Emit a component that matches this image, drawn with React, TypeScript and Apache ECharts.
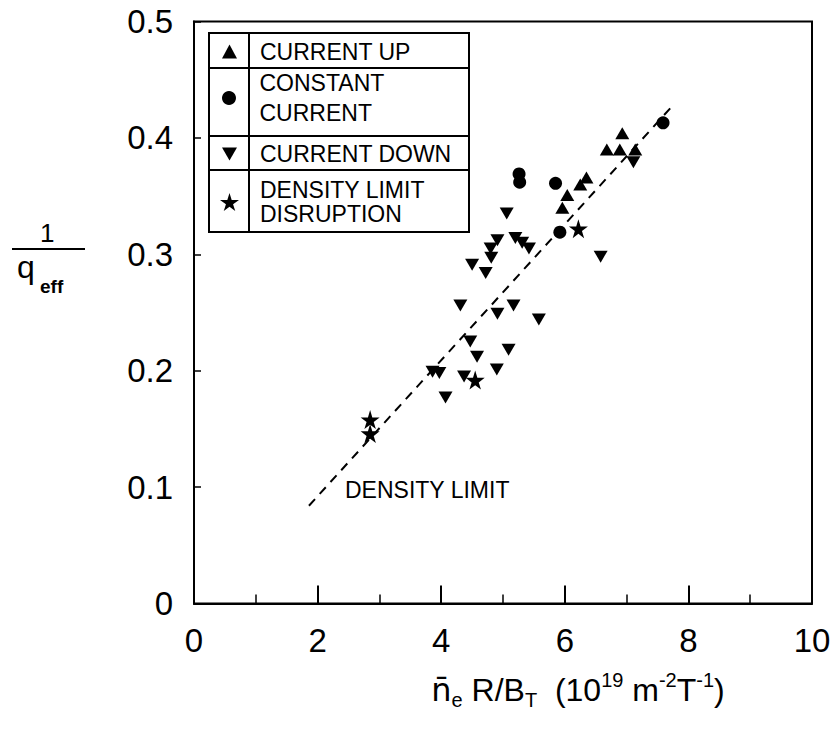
import React, { useEffect, useRef } from "react";
import * as echarts from "echarts";

const FONT = '"Liberation Sans", Arial, sans-serif';

const xTicks = [0, 2, 4, 6, 8, 10];
const yTicks = [0, 0.1, 0.2, 0.3, 0.4, 0.5];

const currentUp: number[][] = [
  [6.93, 0.404], [6.68, 0.39], [6.89, 0.39], [7.14, 0.39],
  [6.25, 0.36], [6.35, 0.366], [6.04, 0.351], [5.96, 0.34],
];
const constantCurrent: number[][] = [
  [5.26, 0.369], [5.27, 0.362], [5.85, 0.361], [5.92, 0.319], [7.59, 0.413],
];
const currentDown: number[][] = [
  [5.06, 0.335], [4.91, 0.312], [4.8, 0.305], [4.81, 0.297], [5.2, 0.314],
  [5.31, 0.31], [5.42, 0.305], [4.5, 0.291], [4.72, 0.284], [6.58, 0.298],
  [4.31, 0.256], [4.91, 0.249], [5.17, 0.256], [5.58, 0.244], [4.47, 0.225],
  [4.58, 0.212], [5.09, 0.218], [3.86, 0.199], [3.97, 0.198], [4.37, 0.195],
  [4.9, 0.201], [4.07, 0.177], [7.11, 0.379],
];
const disruption: number[][] = [
  [6.22, 0.322], [4.55, 0.192], [2.85, 0.158], [2.85, 0.146],
];
const densityLimitLine: number[][] = [[1.86, 0.084], [7.75, 0.428]];

const STAR =
  "path://M50,0 L61,35 L98,35 L68,57 L79,91 L50,70 L21,91 L32,57 L2,35 L39,35 Z";
const DOWN_TRIANGLE = "path://M0,0 L14,0 L7,12 Z";

export default function App() {
  const ref = useRef<HTMLDivElement>(null);
  useEffect(() => {
    const chart = echarts.init(ref.current!, null, { renderer: "svg" });
    const legendBase = {
      orient: "vertical",
      selectedMode: false,
      padding: 0,
      itemWidth: 15,
      itemHeight: 14,
      left: 222,
    };
    const legendText = (lh: number, pad = 18) => ({
      fontSize: 23,
      fontFamily: FONT,
      color: "#000",
      lineHeight: lh,
      padding: [0, 0, 0, pad],
    });
    chart.setOption({
      animation: false,
      backgroundColor: "#fff",
      grid: {
        left: 194,
        top: 21.5,
        right: 25,
        bottom: 136.5,
        show: true,
        borderColor: "#000",
        borderWidth: 2,
        containLabel: false,
      },
      xAxis: {
        type: "value",
        min: xTicks[0],
        max: xTicks[xTicks.length - 1],
        interval: 2,
        axisLine: { show: true, onZero: false, lineStyle: { color: "#000", width: 2 } },
        axisTick: { show: true, inside: true, length: 18, lineStyle: { color: "#000", width: 2 } },
        minorTick: { show: true, splitNumber: 2, length: 9, lineStyle: { color: "#000", width: 1.5 } },
        splitLine: { show: false },
        axisLabel: { fontSize: 33, fontFamily: FONT, color: "#000", margin: 20 },
        name:
          "{n|n\u0304}{sub|e}{t| R/B}{sub|T}{t|  (10}{sup|19}{t| m}{sup|-2}{t|T}{sup|-1}{t|)}",
        nameLocation: "middle",
        nameGap: 66,
        nameTextStyle: {
          fontFamily: FONT,
          color: "#000",
          padding: [0, 0, 0, 150],
          rich: {
            n: { fontSize: 32, fontFamily: '"DejaVu Sans", sans-serif', color: "#000", lineHeight: 40 },
            t: { fontSize: 32, fontFamily: FONT, color: "#000", lineHeight: 40 },
            sub: { fontSize: 20, fontFamily: FONT, color: "#000", lineHeight: 20, verticalAlign: "bottom" },
            sup: { fontSize: 20, fontFamily: FONT, color: "#000", lineHeight: 20, verticalAlign: "top" },
          },
        },
      },
      yAxis: {
        type: "value",
        min: yTicks[0],
        max: yTicks[yTicks.length - 1],
        interval: 0.1,
        axisLine: { show: true, onZero: false, lineStyle: { color: "#000", width: 2 } },
        axisTick: { show: true, inside: true, length: 7, lineStyle: { color: "#000", width: 1.5 } },
        splitLine: { show: false },
        axisLabel: { fontSize: 33, fontFamily: FONT, color: "#000", margin: 21 },
      },
      legend: [
        { ...legendBase, top: 40, data: ["CURRENT UP"], textStyle: legendText(22) },
        { ...legendBase, top: 68, data: ["CONSTANT\nCURRENT"], textStyle: legendText(30) },
        {
          ...legendBase,
          top: 142,
          data: [{ name: "CURRENT DOWN", icon: DOWN_TRIANGLE }],
          textStyle: legendText(24),
        },
        {
          ...legendBase,
          left: 220,
          itemWidth: 19,
          itemHeight: 19,
          top: 178,
          data: ["DENSITY LIMIT\nDISRUPTION"],
          textStyle: legendText(24, 16),
        },
      ],
      graphic: [
        {
          type: "rect",
          shape: { x: 209, y: 33, width: 260, height: 199 },
          style: { fill: "none", stroke: "#000", lineWidth: 2 },
          z: 1,
        },
        { type: "line", shape: { x1: 209, y1: 68, x2: 469, y2: 68 }, style: { stroke: "#000", lineWidth: 2 } },
        { type: "line", shape: { x1: 209, y1: 136, x2: 469, y2: 136 }, style: { stroke: "#000", lineWidth: 2 } },
        { type: "line", shape: { x1: 209, y1: 170, x2: 469, y2: 170 }, style: { stroke: "#000", lineWidth: 2 } },
        { type: "line", shape: { x1: 249, y1: 33, x2: 249, y2: 232 }, style: { stroke: "#000", lineWidth: 2 } },
        {
          type: "text",
          left: 345,
          top: 478,
          style: { text: "DENSITY LIMIT", font: `23px ${FONT}`, fill: "#000" },
        },
        {
          type: "text",
          left: 40,
          top: 220,
          style: { text: "1", font: `26px ${FONT}`, fill: "#000" },
        },
        { type: "line", shape: { x1: 12, y1: 249, x2: 85, y2: 249 }, style: { stroke: "#000", lineWidth: 2 } },
        {
          type: "text",
          left: 17,
          top: 251,
          style: { text: "q", font: `32px ${FONT}`, fill: "#000" },
        },
        {
          type: "text",
          left: 40,
          top: 277,
          style: { text: "eff", font: `bold 19px ${FONT}`, fill: "#000" },
        },
      ],
      series: [
        {
          name: "CURRENT UP",
          type: "scatter",
          data: currentUp,
          symbol: "triangle",
          symbolSize: [14, 12],
          itemStyle: { color: "#000", opacity: 1 },
        },
        {
          name: "CONSTANT\nCURRENT",
          type: "scatter",
          data: constantCurrent,
          symbol: "circle",
          symbolSize: 13,
          itemStyle: { color: "#000", opacity: 1 },
        },
        {
          name: "CURRENT DOWN",
          type: "scatter",
          data: currentDown,
          symbol: "triangle",
          symbolRotate: 180,
          symbolSize: [14, 12],
          itemStyle: { color: "#000", opacity: 1 },
        },
        {
          name: "DENSITY LIMIT\nDISRUPTION",
          type: "scatter",
          data: disruption,
          symbol: STAR,
          symbolSize: 19,
          itemStyle: { color: "#000", opacity: 1 },
        },
        {
          name: "density limit line",
          type: "line",
          data: densityLimitLine,
          showSymbol: false,
          symbol: "none",
          lineStyle: { color: "#000", width: 2, type: [9, 7] },
          silent: true,
          z: 1,
        },
      ],
    });
    return () => chart.dispose();
  }, []);
  return (
    <div
      ref={ref}
      style={{ position: "fixed", left: 0, top: 0, width: 837, height: 740, background: "#fff" }}
    />
  );
}
